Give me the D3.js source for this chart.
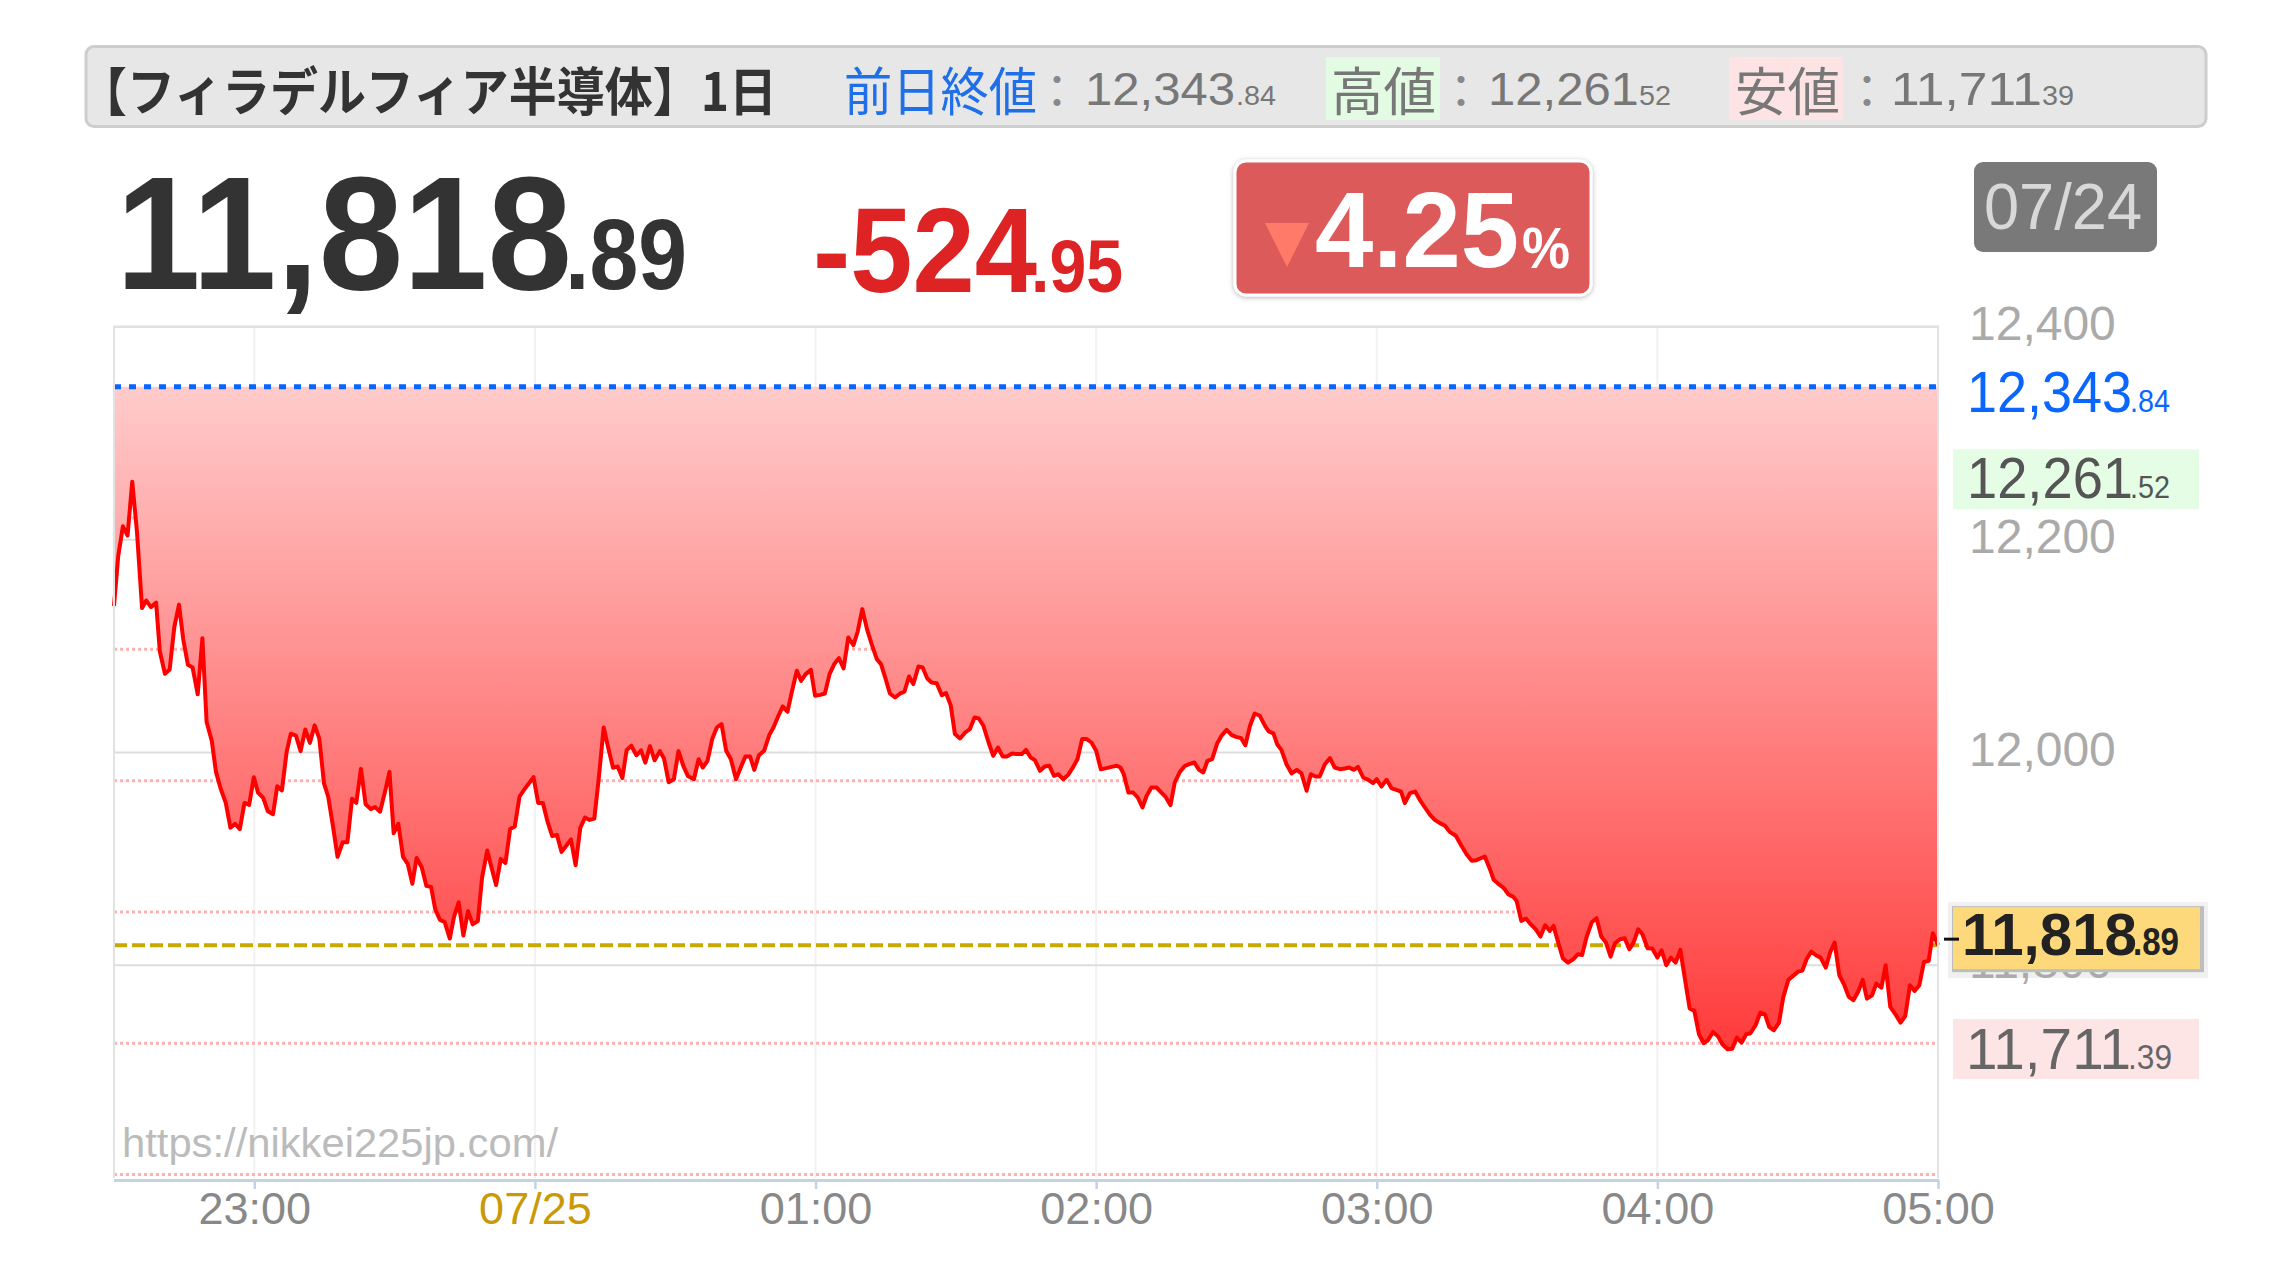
<!DOCTYPE html>
<html><head><meta charset="utf-8">
<script src="https://cdn.jsdelivr.net/npm/d3@7"></script>
<style>html,body{margin:0;padding:0;background:#fff;} svg{display:block;}</style>
</head><body>
<svg id="chart" width="2292" height="1272"></svg>
<script>
// ---------- data ----------
const titleText = "【フィラデルフィア半導体】1日";
const headerLabels = ["前日終値", "高値", "安値"];
const prevClose = 12343.84;
const highPrice = 12261.52;
const lowPrice = 11711.39;
const lastPrice = 11818.89;
const changeValue = -524.95;
const changePct = -4.25;
const dateLabel = "07/24";
const watermark = "https://nikkei225jp.com/";
const yTickValues = [11800, 12000, 12200, 12400];
const pctSteps = [1, 2, 3, 4, 5, 6];
const startTime = "2024-07-24T22:30";
const endTime = "2024-07-25T05:00";
const xTickTimes = ["2024-07-24T23:00","2024-07-25T00:00","2024-07-25T01:00","2024-07-25T02:00","2024-07-25T03:00","2024-07-25T04:00","2024-07-25T05:00"];
const xTickLabels = ["23:00","07/25","01:00","02:00","03:00","04:00","05:00"];
// [minutes after 22:30, price]
const pricePoints = [
[0,12137.7],[0.9,12184.5],[1.9,12212.6],[2.9,12204],[3.9,12254.5],[4.9,12208],[6,12135.8],[6.9,12142.8],[7.9,12136.6],[9,12141],[9.8,12095],[10.9,12074],[11.9,12078],[12.9,12118],[13.9,12139],[14.8,12106.6],[15.8,12082.4],[16.8,12080],[17.9,12054.7],[18.9,12107.4],[19.8,12028.6],[20.9,12011],[21.8,11981.8],[22.8,11966.2],[23.9,11952.6],[24.9,11929.2],[25.9,11933],[26.9,11928],[27.9,11952.6],[28.9,11950.7],[29.9,11976.8],[30.8,11962.3],[31.9,11957.3],[32.9,11944.8],[34,11942],[34.9,11968.2],[35.9,11964.3],[36.9,12000.2],[37.8,12017.7],[38.9,12015.8],[39.9,12001.3],[40.9,12021.6],[41.9,12009.1],[42.9,12025.5],[43.9,12013],[44.9,11970.9],[45.8,11958.4],[46.8,11931.2],[47.8,11901.9],[48.9,11915.6],[49.9,11915.6],[50.9,11956.5],[51.8,11952.6],[52.8,11984.6],[53.8,11951.4],[54.9,11946.8],[55.8,11948.7],[56.9,11944.4],[57.9,11962.3],[58.9,11981.8],[59.8,11924.1],[60.8,11933],[61.8,11901.9],[62.8,11895.3],[63.8,11876.6],[64.7,11900.8],[65.8,11892.2],[66.8,11874.6],[67.8,11873.5],[68.7,11852.4],[69.7,11842.7],[70.7,11840.7],[71.8,11825.1],[72.7,11845.4],[73.7,11859.1],[74.7,11827.9],[75.7,11850.9],[76.7,11838.4],[77.8,11841.5],[78.7,11882.4],[79.8,11907.8],[80.7,11892.2],[81.7,11875.4],[82.7,11900],[83.7,11896.1],[84.7,11928],[85.7,11930.4],[86.7,11958.4],[87.7,11965.1],[88.7,11970.9],[89.7,11976.8],[90.7,11952.6],[91.7,11952.6],[92.7,11935],[93.7,11921.4],[94.7,11922.6],[95.7,11906.6],[96.7,11912.4],[97.7,11918.3],[98.7,11894.1],[99.7,11929.2],[100.7,11938.9],[101.7,11936.6],[102.7,11937.8],[103.7,11977.9],[104.7,12023.5],[105.7,12004],[106.7,11985.7],[107.7,11986.9],[108.7,11976],[109.6,12002.1],[110.6,12006.4],[111.7,11997.4],[112.7,12002.1],[113.6,11990.4],[114.6,12006],[115.6,11992.7],[116.7,12001.3],[117.6,11994.3],[118.6,11972.1],[119.7,11974.8],[120.7,12001.3],[121.7,11987.7],[122.7,11977.9],
[124,11974.9],[125,11993.7],[125.9,11985.9],[126.9,11992.2],[127.9,12012.6],[128.9,12023.5],[129.9,12026.7],[130.9,12001.6],[131.9,11993.7],[133,11974.9],[134,11985.9],[135,11996.3],[136,11996.3],[136.9,11983.7],[137.9,11997.5],[139,12001.6],[140.1,12016.3],[141,12023.5],[142,12033.9],[143,12043.3],[144,12038.3],[144.9,12056.4],[146,12076.8],[146.9,12067.4],[147.9,12073.7],[149,12077.7],[149.9,12053.3],[151,12054.2],[152,12055.5],[153,12073.7],[154,12083.1],[155,12088.7],[156,12079],[157,12108.1],[158.1,12100.9],[159,12113.5],[160,12134.8],[161,12116],[162,12101.9],[163.1,12087.8],[164,12083.1],[165,12069],[165.9,12055.5],[167,12051.7],[168.1,12055.5],[169,12057.1],[170,12071.5],[170.9,12064.3],[172,12080.9],[172.9,12079.9],[173.9,12069.6],[174.8,12065.8],[175.9,12065.2],[177,12053.9],[177.9,12055.8],[178.9,12044.5],[179.8,12017.3],[180.9,12013.2],[182,12018.8],[183,12022],[184,12032.9],[184.9,12032],[185.9,12025.1],[187,12009.4],[188,11996.9],[189,12004.7],[190,11996.3],[191,11996.3],[192,11999.1],[193,11998.5],[194.1,11998.5],[195,12002.5],[196,11995.3],[196.9,11992.8],[198,11982.8],[199,11986.9],[200,11987.5],[201,11978.1],[201.9,11979.6],[203,11974.9],[204,11979],[205.1,11986.5],[206,11993.7],[207,12012.6],[208,12012.6],[209,12009.4],[210,12001.6],[211,11984.3],
[212.2,11985.3],[213.3,11986.5],[214.4,11987.5],[215.2,11985.9],[215.9,11979.6],[216.9,11962.4],[217.9,11962.4],[218.9,11957.7],[219.9,11948.3],[220.8,11959.3],[221.8,11967.1],[222.9,11967.1],[223.8,11963],[224.8,11958.6],[225.9,11950.5],[226.8,11971.8],[227.9,11981.8],[229,11987.5],[229.9,11989],[231,11990.6],[232,11983.7],[232.9,11981.2],[233.8,11992.2],[234.8,11993.7],[235.9,12008.8],[236.8,12015.7],[237.9,12021.3],[239,12016.3],[239.9,12014.7],[241,12013.5],[241.9,12006.9],[242.9,12025.1],[243.9,12036.7],[245,12034.5],[246.1,12025.1],[246.9,12019.8],[247.9,12017.9],[248.7,12007.8],[249.6,12002.5],[250.7,11989],[251.8,11980.3],[252.9,11983.7],[253.9,11980.3],[255,11964],[255.9,11979.6],[256.9,11977.4],[257.8,11977.4],[258.9,11989],[260,11994.7],[261,11985.9],[262.1,11984.3],[263.2,11984.9],[264.1,11985.9],[265.1,11983.7],[266,11986.5],[267.1,11976.5],[268.2,11974.3],[269.2,11971.2],[270,11974.9],[271,11968],[272.1,11974.3],[273.2,11966.2],[274.2,11964.9],[275.2,11963.3],[276,11952.4],[277.1,11961.8],[278.2,11963.3],[279.2,11955.5],[280.3,11948.3],[281.4,11941.4],[282.4,11936.7],[283.5,11933.6],[284.6,11931.1],[285.6,11925.4],[286.9,11921.7],[288.1,11912.3],[289.2,11904.4],[290.3,11898.2],[291.3,11898.8],[293.1,11902.2],[294.2,11890.3],[295,11880.3],[296.1,11876.2],[297.2,11872.4],[298.1,11866.8],[299.2,11864.3],
[299.9,11860.5],[300.9,11841.7],[301.9,11843.9],[302.9,11838.6],[304,11833.8],[305,11827],[306,11837.6],[307,11832.3],[307.8,11837],[308.8,11821.3],[309.8,11806.3],[310.9,11802.5],[312,11805.6],[313,11810.4],[313.9,11809.7],[314.9,11827],[316,11840.7],[317,11844.2],[318,11827],[319,11821.3],[320,11808.1],[320.9,11820.4],[322,11824.5],[323,11825.4],[324,11815.1],[324.9,11821.3],[325.9,11833.8],[326.8,11829.2],[327.9,11816],[328.9,11815.7],[330,11807.2],[330.9,11814.1],[331.9,11800],[332.9,11807.2],[333.9,11802.5],[334.9,11814.4],[335.9,11786.8],[336.9,11759.3],[337.9,11757.1],[338.9,11735.1],[339.9,11726.7],[340.8,11729.5],[341.9,11737.3],[343,11732.9],[343.9,11725.7],[345,11721],[346,11721.6],[347,11732],[348,11727.3],[349,11735.1],[349.9,11736.1],[351,11743.6],[352,11755.5],[353,11753.9],[353.9,11742],[354.9,11738.9],[356,11746.1],[356.9,11769.6],[358,11786.2],[359,11790],[360.1,11794],[361,11795],[361.9,11805.6],[362.9,11812.9],[363.9,11809.4],[364.9,11807.2],[366,11797.8],[367,11812.9],[367.9,11821.3],[368.9,11790.6],[369.9,11782.1],[370.9,11770.5],[371.9,11767.1],[372.9,11774.9],[373.9,11786.2],[374.8,11768.6],[375.9,11771.8],[376.8,11782.7],[377.9,11779],[378.8,11800],[379.8,11760.8],[380.9,11753.9],[382,11746.1],[383,11752.3],[384,11781.2],[385,11775.9],[386,11781.2],[387,11803.1],[388,11804.1],[388.9,11830.1],[390,11818.89]
];

// ---------- setup ----------
const NUM = "'Liberation Sans', Arial, Helvetica, sans-serif";
const JP = "'Noto Sans CJK JP', 'Noto Sans CJK SC', sans-serif";
const svg = d3.select("#chart");
const parse = d3.timeParse("%Y-%m-%dT%H:%M");
const t0 = parse(startTime), t1 = parse(endTime);
const data = pricePoints.map(([m, v]) => ({t: new Date(t0.getTime() + m * 60000), v}));

const x = d3.scaleTime().domain([t0, t1]).range([114, 1938]);
const y = d3.scaleLinear().domain([11600, 12400]).range([1178, 327]);

function label(g, o) {
  const t = g.append("text")
    .attr("x", o.x).attr("y", o.y)
    .attr("font-family", o.font || NUM)
    .attr("font-size", o.size)
    .attr("font-weight", o.weight || "normal")
    .attr("fill", o.fill || "#333")
    .attr("text-anchor", o.anchor || "start")
    .text(o.text);
  if (o.tl) t.attr("textLength", o.tl).attr("lengthAdjust", "spacingAndGlyphs");
  return t;
}
const splitPrice = v => { const s = d3.format(",.2f")(Math.abs(v)).split("."); return [s[0], "." + s[1]]; };

const defs = svg.append("defs");
const grad = defs.append("linearGradient").attr("id", "fillGrad")
  .attr("gradientUnits", "userSpaceOnUse").attr("x1", 0).attr("x2", 0)
  .attr("y1", y(prevClose)).attr("y2", y(11640));
grad.append("stop").attr("offset", 0).attr("stop-color", "rgb(255,203,203)");
grad.append("stop").attr("offset", 1).attr("stop-color", "rgb(255,40,40)");
const sh = defs.append("filter").attr("id", "shadow").attr("x", "-10%").attr("y", "-20%").attr("width", "120%").attr("height", "140%");
sh.append("feDropShadow").attr("dx", 0).attr("dy", 1).attr("stdDeviation", 2.5).attr("flood-color", "#000").attr("flood-opacity", 0.3);

// ---------- header bar ----------
const hd = svg.append("g");
hd.append("rect").attr("x", 86).attr("y", 46.5).attr("width", 2120).attr("height", 80).attr("rx", 8)
  .attr("fill", "#e7e7e7").attr("stroke", "#cdcdcd").attr("stroke-width", 3);
label(hd, {x: 79, y: 111, text: titleText, size: 52, weight: "bold", font: JP, fill: "#333", tl: 698});
label(hd, {x: 844, y: 111, text: headerLabels[0], size: 52, font: JP, fill: "#1f6fe8", tl: 193});
hd.append("rect").attr("x", 1326).attr("y", 57).attr("width", 114).attr("height", 63).attr("fill", "#e2fbe2");
label(hd, {x: 1331, y: 111, text: headerLabels[1], size: 52, font: JP, fill: "#777", tl: 105});
hd.append("rect").attr("x", 1729).attr("y", 57).attr("width", 114).attr("height", 63).attr("fill", "#fde3e3");
label(hd, {x: 1735, y: 111, text: headerLabels[2], size: 52, font: JP, fill: "#777", tl: 105});
[[1057, prevClose, 1085, 1236], [1461, highPrice, 1488, 1631], [1867, lowPrice, 1891, 2034]].forEach(([cx, v, xm, xf]) => {
  label(hd, {x: cx, y: 108, text: "：", size: 46, font: JP, fill: "#888", anchor: "middle"});
  const [m, f] = splitPrice(v);
  label(hd, {x: xm, y: 105, text: m, size: 46, fill: "#777", tl: 150});
  label(hd, {x: xf, y: 105, text: f, size: 28, fill: "#777", tl: 40});
});

// ---------- big price row ----------
const topRow = svg.append("g");
const [lm, lf] = splitPrice(lastPrice);
label(topRow, {x: 116, y: 289, text: lm, size: 162, weight: "bold", fill: "#333", tl: 456});
label(topRow, {x: 565, y: 289, text: lf, size: 101, weight: "bold", fill: "#333", tl: 122});
const [cm, cf] = splitPrice(changeValue);
label(topRow, {x: 813, y: 292, text: "-" + cm, size: 121, weight: "bold", fill: "#dd2323", tl: 224});
label(topRow, {x: 1031, y: 292, text: cf, size: 74, weight: "bold", fill: "#dd2323", tl: 92});

topRow.append("rect").attr("x", 1235).attr("y", 161).attr("width", 356).attr("height", 134).attr("rx", 11)
  .attr("fill", "#dc5a5a").attr("stroke", "#fff").attr("stroke-width", 3).attr("filter", "url(#shadow)");
topRow.append("path").attr("d", d3.line()([[1265, 223], [1309, 223], [1287, 267]]) + "Z").attr("fill", "#ff7a68");
label(topRow, {x: 1315, y: 267, text: d3.format(".2f")(Math.abs(changePct)), size: 108, weight: "bold", fill: "#fff", tl: 204});
label(topRow, {x: 1522, y: 268, text: "%", size: 57, weight: "bold", fill: "#fff", tl: 48});

topRow.append("rect").attr("x", 1974).attr("y", 162).attr("width", 183).attr("height", 90).attr("rx", 9).attr("fill", "#797979");
label(topRow, {x: 1984, y: 229, text: dateLabel, size: 65, fill: "#d8d8d8", tl: 158});

// ---------- plot background ----------
const plot = svg.append("g");
const hourDates = xTickTimes.map(parse);
plot.selectAll(".vgrid").data(hourDates).join("line")
  .attr("x1", d => x(d)).attr("x2", d => x(d)).attr("y1", 327).attr("y2", 1178)
  .attr("stroke", "#f2f2f2").attr("stroke-width", 2);
plot.selectAll(".hgrid").data(yTickValues).join("line")
  .attr("x1", 114).attr("x2", 1938).attr("y1", d => y(d)).attr("y2", d => y(d))
  .attr("stroke", "#dddddd").attr("stroke-width", 2);
plot.selectAll(".pct").data(pctSteps).join("line")
  .attr("x1", 114).attr("x2", 1938)
  .attr("y1", d => y(prevClose * (1 - d / 100))).attr("y2", d => y(prevClose * (1 - d / 100)))
  .attr("stroke", "#ffb0b0").attr("stroke-width", 3).attr("stroke-dasharray", "3 3");
plot.append("line").attr("x1", 114).attr("x2", 1938).attr("y1", y(lastPrice)).attr("y2", y(lastPrice))
  .attr("stroke", "#c9a800").attr("stroke-width", 4).attr("stroke-dasharray", "13 5");

// ---------- area + lines ----------
const area = d3.area().x(d => x(d.t)).y0(y(prevClose)).y1(d => y(d.v));
plot.append("path").datum(data).attr("d", area).attr("fill", "url(#fillGrad)");
plot.append("line").attr("x1", 114).attr("x2", 1938).attr("y1", y(prevClose)).attr("y2", y(prevClose))
  .attr("stroke", "#0a64ff").attr("stroke-width", 5).attr("stroke-dasharray", "7 8");
const line = d3.line().x(d => x(d.t)).y(d => y(d.v));
plot.append("path").datum(data).attr("d", line).attr("fill", "none")
  .attr("stroke", "#ff0000").attr("stroke-width", 4).attr("stroke-linejoin", "round");

// frame
plot.append("path").attr("d", `M114,1178V326.5H1938V1178`).attr("fill", "none").attr("stroke", "#e2e2e2").attr("stroke-width", 2);

// watermark
label(plot, {x: 122, y: 1157, text: watermark, size: 41, fill: "#bbbbbb", tl: 436});

// ---------- x axis ----------
const xAxis = d3.axisBottom(x).tickValues(hourDates).tickSize(9).tickPadding(3)
  .tickFormat((d, i) => xTickLabels[i]);
const gx = svg.append("g").attr("transform", "translate(0,1180)").call(xAxis);
gx.select(".domain").remove();
gx.selectAll(".tick line").attr("stroke", "#c3d3e4").attr("stroke-width", 2.5);
gx.selectAll(".tick text").attr("font-family", NUM).attr("font-size", 45)
  .attr("fill", (d, i) => i === 1 ? "#c99a06" : "#888");
svg.append("line").attr("x1", 114).attr("x2", 1939).attr("y1", 1180.5).attr("y2", 1180.5)
  .attr("stroke", "#c3d3e4").attr("stroke-width", 3);

// ---------- right labels (boxes behind the 11,800 axis label's visible tail) ----------
const rl = svg.append("g");
const yLast = y(lastPrice);
rl.append("rect").attr("x", 1948).attr("y", yLast - 43).attr("width", 260).attr("height", 76)
  .attr("fill", "#e6e6e6").attr("fill-opacity", 0.6);

// ---------- y axis ----------
const yAxis = d3.axisRight(y).tickValues(yTickValues).tickSize(0).tickPadding(0).tickFormat(d3.format(","));
const gy = svg.append("g").attr("transform", "translate(1969,0)").call(yAxis);
gy.select(".domain").remove();
gy.selectAll(".tick text").attr("dy", 12.5).attr("font-family", NUM).attr("font-size", 48).attr("fill", "#aaaaaa");

{ const yy = y(prevClose) + 25; const [m, f] = splitPrice(prevClose);
  label(rl, {x: 1967, y: yy, text: m, size: 58, fill: "#0a66ff", tl: 165});
  label(rl, {x: 2130, y: yy, text: f, size: 32, fill: "#0a66ff", tl: 40}); }
{ const yc = y(highPrice); const [m, f] = splitPrice(highPrice);
  rl.append("rect").attr("x", 1953).attr("y", yc - 25).attr("width", 246).attr("height", 60).attr("fill", "#e5fde5");
  label(rl, {x: 1967, y: yc + 24, text: m, size: 57, fill: "#555", tl: 166});
  label(rl, {x: 2130, y: yc + 24, text: f, size: 32, fill: "#555", tl: 40}); }
{ const yc = y(lowPrice); const [m, f] = splitPrice(lowPrice);
  rl.append("rect").attr("x", 1953).attr("y", yc - 40.5).attr("width", 246).attr("height", 60).attr("fill", "#fde4e5");
  label(rl, {x: 1966, y: yc + 9.5, text: m, size: 58, fill: "#666", tl: 165});
  label(rl, {x: 2128, y: yc + 9.5, text: f, size: 35, fill: "#666", tl: 44}); }
{ const yc = yLast; const [m, f] = splitPrice(lastPrice);
  const box = svg.append("g");
  box.append("rect").attr("x", 1952).attr("y", yc - 39).attr("width", 252).attr("height", 66).attr("fill", "#bdbdbd");
  box.append("rect").attr("x", 1953).attr("y", yc - 38).attr("width", 247).attr("height", 62).attr("fill", "#fdd97c");
  box.append("line").attr("x1", 1944).attr("x2", 1959).attr("y1", yc - 6).attr("y2", yc - 6).attr("stroke", "#111").attr("stroke-width", 3);
  label(box, {x: 1962, y: yc + 10, text: m, size: 59, weight: "bold", fill: "#222", tl: 175});
  label(box, {x: 2133, y: yc + 10, text: f, size: 38, weight: "bold", fill: "#222", tl: 46}); }
</script>
</body></html>
